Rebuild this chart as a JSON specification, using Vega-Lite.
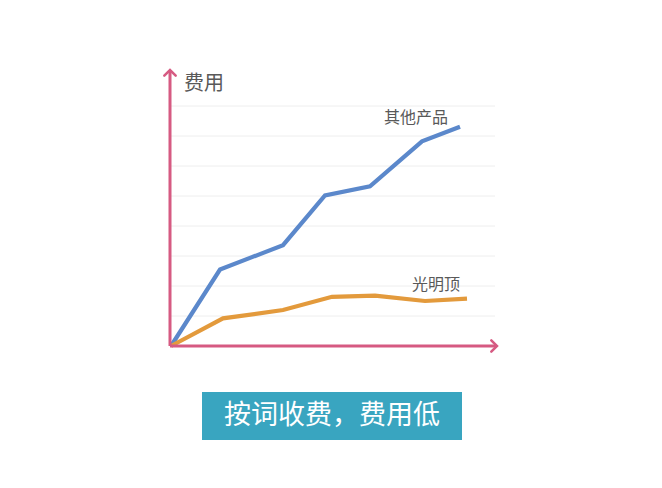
{
  "$schema": "https://vega.github.io/schema/vega-lite/v6.json",
  "description": "按词收费 vs 其他产品 cost comparison",
  "width": 327,
  "height": 276,
  "autosize": "none",
  "padding": {"left": 170, "top": 70, "right": 165, "bottom": 142},
  "background": "white",
  "config": {"view": {"stroke": null}},
  "datasets": {
    "lines": [
      {"series": "其他产品", "x": 1, "y": 0},
      {"series": "其他产品", "x": 50, "y": 2.55},
      {"series": "其他产品", "x": 113, "y": 3.36},
      {"series": "其他产品", "x": 155, "y": 5.02},
      {"series": "其他产品", "x": 200, "y": 5.32},
      {"series": "其他产品", "x": 252, "y": 6.82},
      {"series": "其他产品", "x": 290, "y": 7.31},
      {"series": "光明顶", "x": 1, "y": 0},
      {"series": "光明顶", "x": 53, "y": 0.92},
      {"series": "光明顶", "x": 113, "y": 1.2},
      {"series": "光明顶", "x": 162, "y": 1.64},
      {"series": "光明顶", "x": 205, "y": 1.68},
      {"series": "光明顶", "x": 255, "y": 1.5},
      {"series": "光明顶", "x": 297, "y": 1.58}
    ],
    "grid": [
      {"y": 1}, {"y": 2}, {"y": 3}, {"y": 4},
      {"y": 5}, {"y": 6}, {"y": 7}, {"y": 8}
    ],
    "labels": [
      {"text": "其他产品", "x": 246, "y": 7.6},
      {"text": "光明顶", "x": 266, "y": 2.03}
    ]
  },
  "layer": [
    {
      "data": {"name": "grid"},
      "mark": {"type": "rule", "color": "#eeeeee", "strokeWidth": 1},
      "encoding": {
        "y": {"field": "y", "type": "quantitative", "scale": {"domain": [0, 9.2], "nice": false}, "axis": null},
        "x": {"datum": 0, "type": "quantitative", "scale": {"domain": [0, 327], "nice": false}, "axis": null},
        "x2": {"datum": 325}
      }
    },
    {
      "data": {"name": "lines"},
      "mark": {"type": "line", "strokeWidth": 4.2, "strokeJoin": "miter", "strokeCap": "butt"},
      "encoding": {
        "x": {"field": "x", "type": "quantitative"},
        "y": {"field": "y", "type": "quantitative"},
        "color": {
          "field": "series",
          "type": "nominal",
          "scale": {"domain": ["其他产品", "光明顶"], "range": ["#5b88cb", "#e39a3c"]},
          "legend": null
        }
      }
    },
    {
      "data": {"name": "labels"},
      "mark": {"type": "text", "align": "center", "baseline": "middle", "font": "Noto Sans CJK SC", "fontSize": 16, "color": "#595959"},
      "encoding": {
        "x": {"field": "x", "type": "quantitative"},
        "y": {"field": "y", "type": "quantitative"},
        "text": {"field": "text"}
      }
    },
    {
      "data": {"values": [{"x": 0, "x2": 327}]},
      "mark": {"type": "rule", "color": "#d65a82", "strokeWidth": 3},
      "encoding": {
        "x": {"field": "x", "type": "quantitative"},
        "x2": {"field": "x2"},
        "y": {"datum": 0, "type": "quantitative"}
      }
    },
    {
      "data": {"values": [{"y": 0, "y2": 9.2}]},
      "mark": {"type": "rule", "color": "#d65a82", "strokeWidth": 3},
      "encoding": {
        "y": {"field": "y", "type": "quantitative"},
        "y2": {"field": "y2"},
        "x": {"datum": 0, "type": "quantitative"}
      }
    },
    {
      "data": {"values": [{"x": 0, "y": 9.2}]},
      "mark": {"type": "point", "shape": "M-1,1L0,0L1,1", "size": 130, "filled": false, "stroke": "#d65a82", "strokeWidth": 2.5, "strokeCap": "round", "opacity": 1},
      "encoding": {
        "x": {"field": "x", "type": "quantitative"},
        "y": {"field": "y", "type": "quantitative"}
      }
    },
    {
      "data": {"values": [{"x": 327, "y": 0}]},
      "mark": {"type": "point", "shape": "M-1,-1L0,0L-1,1", "size": 130, "filled": false, "stroke": "#d65a82", "strokeWidth": 2.5, "strokeCap": "round", "opacity": 1},
      "encoding": {
        "x": {"field": "x", "type": "quantitative"},
        "y": {"field": "y", "type": "quantitative"}
      }
    },
    {
      "data": {"values": [{"text": "费用", "x": 14, "y": 8.73}]},
      "mark": {"type": "text", "align": "left", "baseline": "middle", "font": "Noto Sans CJK SC", "fontSize": 20, "color": "#595959"},
      "encoding": {
        "x": {"field": "x", "type": "quantitative"},
        "y": {"field": "y", "type": "quantitative"},
        "text": {"field": "text"}
      }
    },
    {
      "data": {"values": [{"x": 32, "x2": 292, "y": -1.53, "y2": -3.13}]},
      "mark": {"type": "rect", "color": "#39a5c0", "clip": false},
      "encoding": {
        "x": {"field": "x", "type": "quantitative"},
        "x2": {"field": "x2"},
        "y": {"field": "y", "type": "quantitative"},
        "y2": {"field": "y2"}
      }
    },
    {
      "data": {"values": [{"text": "按词收费，费用低", "x": 162, "y": -2.33}]},
      "mark": {"type": "text", "align": "center", "baseline": "middle", "font": "Noto Sans CJK SC", "fontSize": 27, "color": "white"},
      "encoding": {
        "x": {"field": "x", "type": "quantitative"},
        "y": {"field": "y", "type": "quantitative"},
        "text": {"field": "text"}
      }
    }
  ]
}
